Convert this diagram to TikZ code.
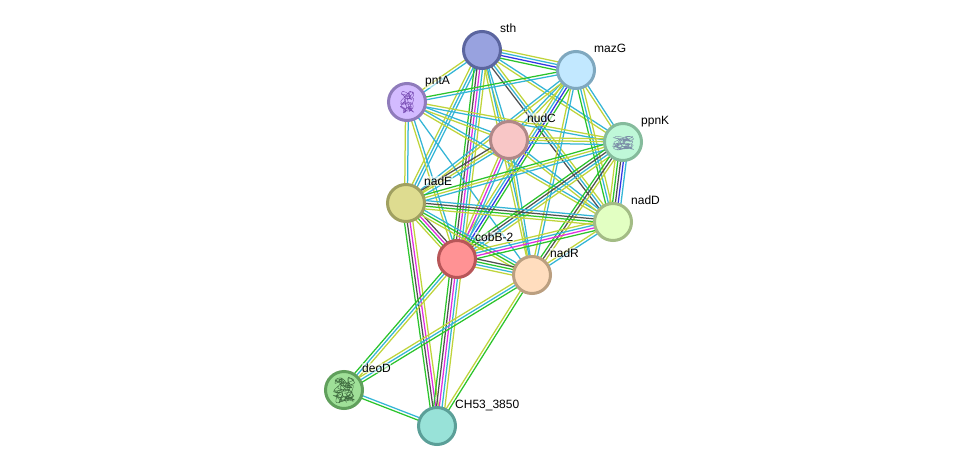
\documentclass[tikz,border=0pt]{standalone}
\usepackage{fontspec}
\setmainfont{Liberation Sans}
\usetikzlibrary{calc,backgrounds}
\definecolor{Y}{HTML}{BFD43A}
\definecolor{C}{HTML}{33B5D6}
\definecolor{G}{HTML}{2BC42B}
\definecolor{B}{HTML}{3434E4}
\definecolor{M}{HTML}{E02CE0}
\definecolor{K}{HTML}{505050}
\definecolor{sthF}{HTML}{98A2DF}\definecolor{sthD}{HTML}{5B659F}
\definecolor{mazF}{HTML}{C2E8FF}\definecolor{mazD}{HTML}{7FA8BF}
\definecolor{pntF}{HTML}{D3BBFF}\definecolor{pntD}{HTML}{8F7BBB}
\definecolor{nudF}{HTML}{F8C6C6}\definecolor{nudD}{HTML}{B08888}
\definecolor{ppnF}{HTML}{BFF8D8}\definecolor{ppnD}{HTML}{85BB9C}
\definecolor{naeF}{HTML}{DEDC90}\definecolor{naeD}{HTML}{A0A060}
\definecolor{nadF}{HTML}{E2FFC2}\definecolor{nadD}{HTML}{A3BC85}
\definecolor{cobF}{HTML}{FF9294}\definecolor{cobD}{HTML}{B85658}
\definecolor{narF}{HTML}{FFDDBE}\definecolor{narD}{HTML}{BB9F80}
\definecolor{deoF}{HTML}{9FE098}\definecolor{deoD}{HTML}{609F5C}
\definecolor{chfF}{HTML}{98E2D8}\definecolor{chfD}{HTML}{5B9F98}
\definecolor{pntI}{HTML}{7A4FB5}
\definecolor{ppnI}{HTML}{7C8FA8}
\definecolor{deoI}{HTML}{3F6B3F}
\tikzset{
  protein/.style 2 args={circle,minimum size=37pt,inner sep=0pt,line width=3pt,fill=#1,draw=#2},
  tag/.style={anchor=base west,inner sep=0.6pt,font=\fontsize{12}{12}\selectfont,fill=white,fill opacity=0.55,text opacity=1},
  strand/.style={line width=1.25pt},
  fold/.style={line width=0.4pt,line join=round}
}
% A bundle of parallel evidence lines between two proteins
\newcommand{\lnk}[3]{%
  \foreach \c [count=\n] in {#3} {\global\let\nlines\n}%
  \foreach \c [count=\i] in {#3} {%
    \pgfmathsetmacro{\off}{(\i-(\nlines+1)/2)*2.8}%
    \draw[strand,color=\c] ($(#1)!\off pt!90:(#2)$) -- ($(#2)!\off pt!-90:(#1)$);
  }%
}
% Small ribbon-like scribble standing for a protein structure:
% centre x, centre y, colour, half width, half height, curve length
\newcommand{\fold}[6]{%
  \draw[fold,color=#3] plot[smooth,domain=0:#6,samples=80,variable=\t]
    ({#1+#4*(0.62*sin(\t*47)+0.38*sin(\t*211))},{#2+#5*(0.75*sin(\t*31)+0.25*cos(\t*173))});
}
\begin{document}
\begin{tikzpicture}[x=1pt,y=-1pt]
\useasboundingbox (0,0) rectangle (976,471);
\node[protein={sthF}{sthD}] (sth) at (482,50) {};
\node[protein={mazF}{mazD}] (mazG) at (576,70) {};
\node[protein={pntF}{pntD}] (pntA) at (407,102) {};
\node[protein={nudF}{nudD}] (nudC) at (509,140) {};
\node[protein={ppnF}{ppnD}] (ppnK) at (623,142) {};
\node[protein={naeF}{naeD}] (nadE) at (406,203) {};
\node[protein={nadF}{nadD}] (nadD) at (613,222) {};
\node[protein={cobF}{cobD}] (cobB) at (457,259) {};
\node[protein={narF}{narD}] (nadR) at (532,275) {};
\node[protein={deoF}{deoD}] (deoD) at (344,390) {};
\node[protein={chfF}{chfD}] (chff) at (437,426) {};
\begin{scope}[on background layer]
\fill[white] (0,0) rectangle (976,471);
\lnk{sth}{mazG}{G,B,C,Y}
\lnk{sth}{pntA}{Y,C}
\lnk{sth}{nudC}{Y,C}
\lnk{sth}{ppnK}{Y,C}
\lnk{sth}{nadE}{Y,C,C}
\lnk{sth}{cobB}{G,K,M,C,Y}
\lnk{sth}{nadD}{K,C,Y}
\lnk{sth}{nadR}{Y,C}
\lnk{mazG}{pntA}{G,C}
\lnk{mazG}{nudC}{C,Y}
\lnk{mazG}{cobB}{Y,C,B,G}
\lnk{mazG}{ppnK}{Y,C}
\lnk{mazG}{nadD}{G,C,Y}
\lnk{mazG}{nadR}{Y,C}
\lnk{mazG}{nadE}{C,Y}
\lnk{pntA}{nudC}{Y,C}
\lnk{pntA}{ppnK}{C,Y}
\lnk{pntA}{nadE}{Y,C}
\lnk{pntA}{cobB}{Y,C}
\lnk{pntA}{nadD}{Y,C}
\lnk{pntA}{nadR}{C}
\lnk{nudC}{ppnK}{C,Y,Y}
\lnk{nudC}{nadE}{K,Y,C}
\lnk{nudC}{cobB}{Y,M,C}
\lnk{nudC}{nadD}{Y,C}
\lnk{nudC}{nadR}{Y,C}
\lnk{ppnK}{nadE}{G,Y,C}
\lnk{ppnK}{cobB}{G,K,C,Y}
\lnk{ppnK}{nadD}{Y,G,K,B,C}
\lnk{ppnK}{nadR}{G,K,Y}
\lnk{nadE}{nadD}{Y,G,K,C}
\lnk{nadE}{cobB}{Y,G,M,K}
\lnk{nadE}{nadR}{Y,G,C}
\lnk{nadE}{chff}{G,K,M,Y}
\lnk{nadD}{cobB}{Y,C,M,G}
\lnk{nadD}{nadR}{Y,C}
\lnk{cobB}{nadR}{Y,C,G,K}
\lnk{cobB}{deoD}{G,C,Y}
\lnk{cobB}{chff}{G,K,M,C,Y}
\lnk{nadR}{deoD}{Y,C,G}
\lnk{nadR}{chff}{Y,G}
\lnk{deoD}{chff}{G,C}
\end{scope}
\fold{407}{102}{pntI}{7}{11}{34}
\fold{623}{143}{ppnI}{11}{7}{40}
\fold{344}{390}{deoI}{11}{13}{50}
\node[tag] (tsth) at (499.4,32) {sth};
\node[tag] (tmazG) at (593.4,52) {mazG};
\node[tag] (tpntA) at (424.4,84.5) {pntA};
\node[tag] (tnudC) at (526.4,122.5) {nudC};
\node[tag] (tppnK) at (640.4,124.5) {ppnK};
\node[tag] (tnadE) at (423.4,185.5) {nadE};
\node[tag] (tnadD) at (630.4,204.5) {nadD};
\node[tag] (tcobB) at (474.4,241.5) {cobB-2};
\node[tag] (tnadR) at (549.4,257.5) {nadR};
\node[tag] (tdeoD) at (361.4,372.5) {deoD};
\node[tag] (tchff) at (454.4,408.5) {CH53\_3850};
\end{tikzpicture}
\end{document}
